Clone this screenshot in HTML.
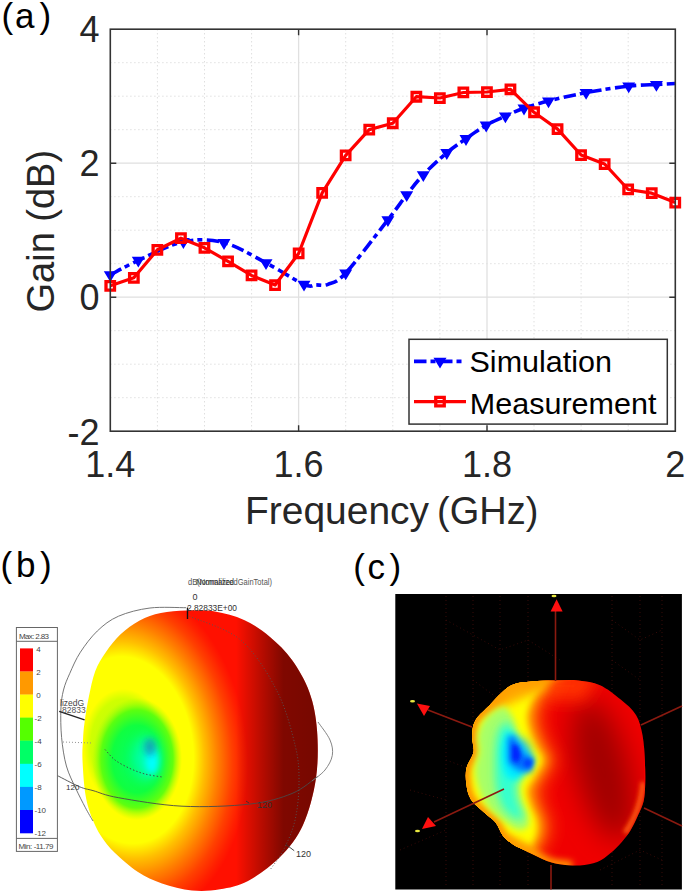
<!DOCTYPE html>
<html><head><meta charset="utf-8"><style>
html,body{margin:0;padding:0;background:#fff;width:685px;height:896px;overflow:hidden}
svg{position:absolute;left:0;top:0;font-family:"Liberation Sans",sans-serif}
</style></head><body>
<svg width="685" height="896" viewBox="0 0 685 896">
<path d="M157.4,29.2V431.2 M204.5,29.2V431.2 M251.6,29.2V431.2 M345.7,29.2V431.2 M392.8,29.2V431.2 M439.9,29.2V431.2 M534.0,29.2V431.2 M581.1,29.2V431.2 M628.2,29.2V431.2 M110.3,62.7H675.3 M110.3,96.2H675.3 M110.3,129.7H675.3 M110.3,196.7H675.3 M110.3,230.2H675.3 M110.3,263.7H675.3 M110.3,330.7H675.3 M110.3,364.2H675.3 M110.3,397.7H675.3" stroke="#d8d8d8" stroke-width="1" stroke-dasharray="1.2 2.8" fill="none"/>
<path d="M298.6,29.2V431.2 M110.3,163.2H675.3 M487.0,29.2V431.2 M110.3,297.2H675.3" stroke="#e0e0e0" stroke-width="1.3" fill="none"/>
<path d="M298.6,431.2V425.2 M298.6,29.2V35.2 M110.3,163.2H116.3 M675.3,163.2H669.3 M487.0,431.2V425.2 M487.0,29.2V35.2 M110.3,297.2H116.3 M675.3,297.2H669.3" stroke="#333" stroke-width="1.4" fill="none"/>
<path d="M110.3,274.9 C115.0,272.5 126.1,265.9 138.3,260.4 C150.5,254.9 169.1,244.6 183.4,241.7 C197.7,238.8 210.2,239.2 224.0,242.7 C237.8,246.2 252.7,255.9 266.0,262.9 C279.3,269.8 295.7,280.7 304.0,284.4 C312.3,288.1 312.0,284.9 316.0,284.9 C320.0,284.9 323.1,286.3 328.0,284.3 C332.9,282.3 335.7,283.8 345.7,273.0 C355.7,262.2 377.7,232.8 387.9,219.8 C398.1,206.8 400.8,202.3 406.7,194.8 C412.6,187.3 416.6,181.8 423.3,174.8 C430.0,167.8 439.7,158.7 446.8,152.7 C453.9,146.7 459.4,143.3 466.0,138.7 C472.6,134.1 479.6,129.0 486.2,125.2 C492.8,121.4 499.1,118.9 505.4,116.1 C511.7,113.3 516.8,110.7 524.0,108.2 C531.2,105.7 538.1,103.6 548.5,101.0 C558.9,98.4 572.7,95.1 586.1,92.6 C599.5,90.1 617.0,87.4 628.7,86.1 C640.4,84.8 648.6,84.9 656.4,84.5 C664.2,84.1 672.1,83.7 675.3,83.5" stroke="#0000ff" stroke-width="3.6" fill="none" stroke-dasharray="12.5 4 5 4.5"/>
<path d="M103.8,271.3L116.8,271.3L110.3,282.1ZM131.8,256.8L144.8,256.8L138.3,267.6ZM176.9,238.1L189.9,238.1L183.4,248.9ZM217.5,239.1L230.5,239.1L224.0,249.9ZM259.5,259.3L272.5,259.3L266.0,270.1ZM297.5,280.8L310.5,280.8L304.0,291.6ZM339.2,269.4L352.2,269.4L345.7,280.2ZM381.4,216.2L394.4,216.2L387.9,227.0ZM400.2,191.2L413.2,191.2L406.7,202.0ZM416.8,171.2L429.8,171.2L423.3,182.0ZM440.3,149.1L453.3,149.1L446.8,159.9ZM459.5,135.1L472.5,135.1L466.0,145.9ZM479.7,121.6L492.7,121.6L486.2,132.4ZM498.9,112.5L511.9,112.5L505.4,123.3ZM517.5,104.6L530.5,104.6L524.0,115.4ZM542.0,97.4L555.0,97.4L548.5,108.2ZM579.6,89.0L592.6,89.0L586.1,99.8ZM622.2,82.5L635.2,82.5L628.7,93.3ZM649.9,80.9L662.9,80.9L656.4,91.7Z" fill="#0000ff"/>
<path d="M110.3,285.8 L133.8,277.8 L157.4,249.8 L180.9,238.2 L204.5,247.8 L228.0,261.4 L251.5,275.4 L275.1,285.0 L298.6,253.5 L322.2,192.9 L345.7,155.4 L369.2,129.6 L392.8,123.2 L416.3,96.7 L439.9,98.0 L463.4,92.5 L486.9,92.0 L510.5,89.4 L534.0,112.3 L557.6,129.1 L581.1,155.0 L604.6,164.0 L628.2,189.5 L651.7,193.2 L675.3,202.6" stroke="#ff0000" stroke-width="3.2" fill="none" stroke-linejoin="round"/>
<path d="M106.0,281.6h8.5v8.5h-8.5ZM129.6,273.6h8.5v8.5h-8.5ZM153.1,245.6h8.5v8.5h-8.5ZM176.7,233.9h8.5v8.5h-8.5ZM200.2,243.6h8.5v8.5h-8.5ZM223.8,257.1h8.5v8.5h-8.5ZM247.3,271.1h8.5v8.5h-8.5ZM270.8,280.8h8.5v8.5h-8.5ZM294.4,249.2h8.5v8.5h-8.5ZM317.9,188.7h8.5v8.5h-8.5ZM341.4,151.2h8.5v8.5h-8.5ZM365.0,125.3h8.5v8.5h-8.5ZM388.5,119.0h8.5v8.5h-8.5ZM412.1,92.5h8.5v8.5h-8.5ZM435.6,93.8h8.5v8.5h-8.5ZM459.1,88.2h8.5v8.5h-8.5ZM482.7,87.8h8.5v8.5h-8.5ZM506.2,85.2h8.5v8.5h-8.5ZM529.8,108.0h8.5v8.5h-8.5ZM553.3,124.8h8.5v8.5h-8.5ZM576.8,150.8h8.5v8.5h-8.5ZM600.4,159.8h8.5v8.5h-8.5ZM623.9,185.2h8.5v8.5h-8.5ZM647.5,188.9h8.5v8.5h-8.5ZM671.0,198.3h8.5v8.5h-8.5Z" stroke="#ff0000" stroke-width="3.3" fill="none"/>
<rect x="110.3" y="29.2" width="565.0" height="402.0" fill="none" stroke="#333" stroke-width="1.6"/>
<rect x="409" y="339.3" width="258.3" height="84.8" fill="#fff" stroke="#333" stroke-width="1.5"/>
<path d="M414,361.4H466" stroke="#0000ff" stroke-width="3.6" stroke-dasharray="12.5 4 5 4.5"/>
<path d="M433.5,357.8L446.5,357.8L440.0,368.6Z" fill="#0000ff"/>
<path d="M414,401.6H466" stroke="#ff0000" stroke-width="3.2"/>
<path d="M435.75,397.35h8.5v8.5h-8.5Z" stroke="#ff0000" stroke-width="3.3" fill="none"/>
<text transform="translate(469.5,372.4) scale(1.035,1)" font-size="29.5" fill="#000">Simulation</text>
<text transform="translate(469.8,414) scale(1.035,1)" font-size="29.5" fill="#000">Measurement</text>
<g font-size="36" fill="#262626" text-anchor="end">
<text x="99.5" y="41.7">4</text>
<text x="99.5" y="175.7">2</text>
<text x="99.5" y="309.7">0</text>
<text x="99.5" y="444.5">-2</text>
</g>
<g font-size="36" fill="#262626" text-anchor="middle">
<text x="110.3" y="476.5">1.4</text>
<text x="298.6" y="476.5">1.6</text>
<text x="487.0" y="476.5">1.8</text>
<text x="675.3" y="476.5">2</text>
</g>
<text transform="translate(245,524.2) scale(1.025,1)" font-size="38" fill="#262626">Frequency</text>
<text x="437" y="524.2" font-size="38" fill="#262626">(GHz)</text>
<text transform="translate(53.5,312.5) rotate(-90)" font-size="38" fill="#262626">Gain (dB)</text>
<g font-size="35" fill="#000"><text y="28"><tspan x="1.5">(</tspan><tspan x="15">a</tspan><tspan x="39.5">)</tspan></text>
<text y="576.5"><tspan x="0.6">(</tspan><tspan x="16">b</tspan><tspan x="40">)</tspan></text>
<text y="578.5"><tspan x="353.3">(</tspan><tspan x="367.6">c</tspan><tspan x="389.5">)</tspan></text></g>
<defs>
<clipPath id="cb"><path d="M186.5,610.6 C195.5,610.4 205.4,609.9 215.0,611.5 C224.6,613.1 234.8,615.8 244.0,620.0 C253.2,624.2 262.0,630.3 270.0,637.0 C278.0,643.7 285.4,650.8 292.0,660.0 C298.6,669.2 305.2,680.5 309.4,692.2 C313.6,703.9 315.9,715.7 317.0,730.0 C318.1,744.3 318.3,762.2 316.0,778.0 C313.7,793.8 309.0,811.8 303.0,825.0 C297.0,838.2 289.2,847.7 280.0,857.0 C270.8,866.3 258.0,875.6 248.0,881.0 C238.0,886.4 229.3,887.7 220.0,889.3 C210.7,890.9 201.7,891.5 192.0,890.5 C182.3,889.5 171.0,886.6 162.0,883.5 C153.0,880.4 145.8,877.1 138.0,872.0 C130.2,866.9 121.2,859.0 115.0,853.0 C108.8,847.0 104.8,841.8 101.0,836.0 C97.2,830.2 94.6,824.8 92.0,818.0 C89.4,811.2 87.1,804.7 85.5,795.0 C83.9,785.3 82.9,769.2 82.5,760.0 C82.1,750.8 82.7,746.3 83.0,740.0 C83.3,733.7 83.6,729.2 84.6,722.0 C85.6,714.8 87.1,705.1 88.9,696.6 C90.7,688.1 92.4,678.6 95.2,671.2 C98.0,663.8 101.6,658.4 105.8,652.2 C110.0,646.0 114.9,639.5 120.6,634.2 C126.2,628.9 133.0,623.9 139.7,620.4 C146.4,616.9 153.0,614.6 160.8,613.0 C168.6,611.4 177.5,610.9 186.5,610.6Z"/></clipPath>
<radialGradient id="gb" gradientUnits="userSpaceOnUse" cx="127" cy="750" r="120" gradientTransform="translate(127 750) rotate(-7) scale(1 1.42) translate(-127 -750)"><stop offset="0" stop-color="#a0ff20"/><stop offset="0.3" stop-color="#d0ff00"/><stop offset="0.36" stop-color="#ffff00"/><stop offset="0.55" stop-color="#ffff00"/><stop offset="0.64" stop-color="#ffc000"/><stop offset="0.75" stop-color="#ff8000"/><stop offset="0.87" stop-color="#ff4000"/><stop offset="0.95" stop-color="#ff2000"/><stop offset="1" stop-color="#ff1000"/></radialGradient>
<radialGradient id="gg" gradientUnits="userSpaceOnUse" cx="137" cy="759" r="45" gradientTransform="translate(137 759) scale(1 1.36) translate(-137 -759)"><stop offset="0" stop-color="#00ff70"/><stop offset="0.55" stop-color="#10ff40"/><stop offset="0.8" stop-color="#50ff10" stop-opacity="0.9"/><stop offset="1" stop-color="#a0ff00" stop-opacity="0"/></radialGradient>
<radialGradient id="sb" gradientUnits="userSpaceOnUse" cx="143" cy="735" r="172" gradientTransform="translate(143 735) scale(1 1.1) translate(-143 -735)"><stop offset="0" stop-color="#000" stop-opacity="0"/><stop offset="0.69" stop-color="#000" stop-opacity="0"/><stop offset="0.85" stop-color="#000" stop-opacity="0.3"/><stop offset="1" stop-color="#000" stop-opacity="0.55"/></radialGradient>
<linearGradient id="sx" gradientUnits="userSpaceOnUse" x1="236" y1="0" x2="322" y2="0"><stop offset="0" stop-color="#000" stop-opacity="0"/><stop offset="0.3" stop-color="#000" stop-opacity="0.28"/><stop offset="0.55" stop-color="#000" stop-opacity="0.5"/><stop offset="1" stop-color="#000" stop-opacity="0.54"/></linearGradient>
<filter id="bb3" x="-50%" y="-50%" width="200%" height="200%"><feGaussianBlur stdDeviation="3"/></filter>
<filter id="bb6" x="-50%" y="-50%" width="200%" height="200%"><feGaussianBlur stdDeviation="6"/></filter>
<filter id="bb12" x="-50%" y="-50%" width="200%" height="200%"><feGaussianBlur stdDeviation="13"/></filter>
</defs>
<g clip-path="url(#cb)"><rect x="80" y="600" width="240" height="296" fill="url(#gb)"/>
<rect x="80" y="680" width="120" height="160" fill="url(#gg)"/>
<ellipse cx="147" cy="758" rx="12" ry="22" fill="#00ffc0" filter="url(#bb6)" opacity="0.8"/>
<ellipse cx="152" cy="761" rx="6.5" ry="13" fill="#00ffff" filter="url(#bb3)"/>
<ellipse cx="150" cy="747" rx="6" ry="9" fill="#1890b8" filter="url(#bb3)" opacity="0.75"/>
<rect x="80" y="600" width="240" height="296" fill="url(#sx)"/></g>
<path d="M186.0,607.7 C180.0,607.8 161.2,606.6 150.0,608.0 C138.8,609.4 127.3,612.4 118.5,616.2 C109.7,620.0 103.6,625.0 97.3,631.0 C91.0,637.0 85.0,645.2 80.4,652.2 C75.8,659.2 72.6,667.0 69.8,673.3 C67.0,679.6 65.0,684.0 63.5,690.0 C62.0,696.0 61.2,701.1 60.9,709.0 C60.6,716.9 60.7,728.0 61.6,737.5 C62.5,747.0 64.0,757.5 66.4,766.0 C68.8,774.5 72.7,781.8 75.9,788.7 C79.1,795.7 82.6,802.3 85.4,807.7 C88.2,813.1 91.7,818.8 93.0,821.0" fill="none" stroke="#666" stroke-width="0.9"/>
<path d="M57.0,775.4 C60.8,777.3 73.7,784.3 79.7,786.8 C85.7,789.3 86.5,788.8 93.0,790.6 C99.5,792.4 103.7,795.1 118.5,797.7 C133.3,800.3 160.1,805.1 182.0,806.2 C203.9,807.3 231.4,806.2 249.7,804.1 C268.0,802.0 280.7,798.1 292.0,793.5 C303.3,788.9 313.2,779.4 317.5,776.6" fill="none" stroke="#4a4a4a" stroke-width="0.9"/>
<path d="M312.0,781.0 C314.2,779.2 321.6,774.3 325.0,770.0 C328.4,765.7 331.5,760.4 332.3,755.4 C333.1,750.4 332.4,745.6 330.0,740.0 C327.6,734.4 320.0,725.0 318.0,722.0" fill="none" stroke="#777" stroke-width="0.9"/>
<path d="M189.5,616.4 C198.0,620.3 226.0,627.6 240.6,640.0 C255.2,652.4 267.9,673.3 277.0,691.0 C286.1,708.7 291.6,730.8 295.3,746.0 C299.0,761.2 299.0,770.3 299.0,782.5 C299.0,794.7 297.7,808.0 295.3,819.0 C292.9,830.0 288.6,839.7 284.4,848.2 C280.2,856.7 272.4,866.4 270.0,870.0" fill="none" stroke="#555" stroke-width="0.9" stroke-dasharray="1 2"/>
<path d="M105.0,749.5 C106.7,751.2 110.8,756.8 115.0,760.0 C119.2,763.2 125.0,766.2 130.0,768.5 C135.0,770.8 139.7,772.6 145.0,774.0 C150.3,775.4 159.2,776.5 162.0,777.0" fill="none" stroke="#444" stroke-width="0.9" stroke-dasharray="1.5 2"/>
<path d="M63,742 L92,743" fill="none" stroke="#888" stroke-width="0.9" stroke-dasharray="1 2"/>
<path d="M59.2,711.4 L84.6,719.9" stroke="#222" stroke-width="1.3"/>
<path d="M187.5,607.5V619" stroke="#111" stroke-width="1.4"/>
<path d="M246,801 l3,2 M285.7,844.3 L294.2,850.7" stroke="#333" stroke-width="0.9"/>
<g font-size="9" fill="#333">
<text x="66" y="790" font-size="8">120</text><text x="257" y="808">120</text><text x="296" y="856.5">120</text>
<text x="192.6" y="600.3">0</text><text x="187" y="611.3" textLength="50" lengthAdjust="spacingAndGlyphs">2.82833E+00</text>
<text x="188" y="585" textLength="84" lengthAdjust="spacingAndGlyphs" fill="#555">dB(NormalizedGainTotal)</text><text x="196" y="585" textLength="38" lengthAdjust="spacingAndGlyphs" fill="#333">Normalized</text>
<text x="60" y="706" font-size="8.5" fill="#444">lizedG</text><text x="62" y="713" font-size="8.5" fill="#555">82833</text>
</g>
<rect x="16.4" y="627.5" width="41" height="223.9" fill="#fff" stroke="#666" stroke-width="1"/>
<path d="M16.4,641.3H57.4M16.4,838.4H57.4" stroke="#666" stroke-width="1"/>
<rect x="20" y="648.4" width="13" height="23.3" fill="#ff0000"/>
<rect x="20" y="671.5" width="13" height="23.3" fill="#ff9900"/>
<rect x="20" y="694.6" width="13" height="23.3" fill="#ffff00"/>
<rect x="20" y="717.6" width="13" height="23.3" fill="#55ff00"/>
<rect x="20" y="740.7" width="13" height="23.3" fill="#00ff66"/>
<rect x="20" y="763.8" width="13" height="23.3" fill="#00ffff"/>
<rect x="20" y="786.9" width="13" height="23.3" fill="#0099ff"/>
<rect x="20" y="810.0" width="13" height="23.3" fill="#0000ff"/>
<g font-size="8" fill="#444">
<text x="19" y="638.6" textLength="30">Max: 2.83</text>
<text x="18.5" y="849" textLength="35">Min: -11.79</text>
<text x="36.2" y="651.5">4</text>
<text x="36.2" y="674.6">2</text>
<text x="36.2" y="697.7">0</text>
<text x="34.5" y="720.7">-2</text>
<text x="34.5" y="743.8">-4</text>
<text x="34.5" y="766.9">-6</text>
<text x="34.5" y="790.0">-8</text>
<text x="34.5" y="813.1">-10</text>
<text x="34.5" y="836.1">-12</text>
</g>
<rect x="395.3" y="594" width="286.6" height="295.5" fill="#000"/>
<g stroke="#380a08" stroke-width="1" stroke-dasharray="1 3" fill="none">
<path d="M446,596V888"/>
<path d="M473,596V888"/>
<path d="M500,596V888"/>
<path d="M528,596V888"/>
<path d="M612,596V888"/>
<path d="M640,596V888"/>
<path d="M662,596V888"/>
<path d="M446,620L500,650L528,640L560,660M473,680L500,700M446,760L473,770M410,790L446,800M400,850L446,830M612,620L640,640L662,630M612,660L640,680M600,870L640,850L662,860"/>
</g>
<defs><clipPath id="cc"><path d="M510.0,686.0 C517.3,681.8 524.6,682.4 532.0,681.5 C539.4,680.6 546.5,680.7 554.2,680.5 C561.9,680.3 570.4,679.7 578.0,680.5 C585.6,681.3 592.9,682.1 600.0,685.3 C607.1,688.5 614.7,694.6 620.7,699.6 C626.7,704.6 632.4,709.0 636.0,715.0 C639.6,721.0 641.1,727.6 642.6,735.4 C644.1,743.2 644.5,753.8 644.9,761.8 C645.3,769.8 645.4,777.1 645.2,783.6 C645.0,790.1 644.9,795.7 643.7,801.0 C642.5,806.3 640.1,810.7 637.9,815.5 C635.7,820.3 633.4,825.6 630.7,830.0 C628.1,834.4 625.4,837.8 622.0,841.7 C618.6,845.6 614.4,849.9 610.3,853.3 C606.2,856.7 602.3,860.0 597.3,862.0 C592.2,864.0 585.9,865.1 580.0,865.5 C574.1,865.9 567.5,865.2 562.0,864.5 C556.5,863.8 552.7,863.1 547.0,861.0 C541.3,858.9 533.4,854.5 527.7,851.8 C522.1,849.0 517.2,847.2 513.1,844.5 C509.0,841.8 505.8,839.4 502.9,835.7 C500.0,832.1 498.8,826.5 495.6,822.6 C492.4,818.7 488.0,816.2 483.9,812.3 C479.8,808.4 473.7,803.8 470.8,799.2 C467.9,794.6 467.1,789.8 466.4,784.6 C465.7,779.4 465.3,773.4 466.5,768.0 C467.7,762.6 472.6,757.3 473.5,752.0 C474.4,746.7 471.7,741.2 472.0,736.0 C472.3,730.8 472.5,725.6 475.2,720.7 C477.9,715.8 482.2,712.6 488.0,706.8 C493.8,701.0 502.7,690.2 510.0,686.0Z"/></clipPath>
<filter id="bl2" x="-50%" y="-50%" width="200%" height="200%"><feGaussianBlur stdDeviation="2"/></filter>
<filter id="bl3" x="-50%" y="-50%" width="200%" height="200%"><feGaussianBlur stdDeviation="3"/></filter>
<filter id="bl5" x="-50%" y="-50%" width="200%" height="200%"><feGaussianBlur stdDeviation="5"/></filter>
<filter id="bl8" x="-50%" y="-50%" width="200%" height="200%"><feGaussianBlur stdDeviation="8"/></filter>
<filter id="bl14" x="-50%" y="-50%" width="200%" height="200%"><feGaussianBlur stdDeviation="14"/></filter>
</defs>
<g clip-path="url(#cc)">
<rect x="460" y="675" width="190" height="195" fill="#f00000"/>
<ellipse cx="603" cy="770" rx="26" ry="72" transform="rotate(-14 603 770)" fill="#a00000" filter="url(#bl14)"/>
<path d="M540,672 L600,672 L585,700 L545,700 Z" fill="#ff3000" filter="url(#bl8)"/>
<path d="M545.0,668.0 C544.3,670.8 543.2,679.7 541.0,685.0 C538.8,690.3 534.3,695.0 532.0,700.0 C529.7,705.0 527.5,710.0 527.0,715.0 C526.5,720.0 527.7,725.0 529.0,730.0 C530.3,735.0 532.8,740.0 535.0,745.0 C537.2,750.0 542.0,755.0 542.0,760.0 C542.0,765.0 537.5,770.0 535.0,775.0 C532.5,780.0 527.8,785.0 527.0,790.0 C526.2,795.0 528.5,800.0 530.0,805.0 C531.5,810.0 535.0,815.2 536.0,820.0 C537.0,824.8 537.0,829.5 536.0,834.0 C535.0,838.5 532.2,842.8 530.0,847.0 C527.8,851.2 525.5,854.5 523.0,859.0 C520.5,863.5 516.3,871.5 515.0,874.0 L440,872 L440,668 Z" fill="#ff5a00" filter="url(#bl8)" transform="translate(14,0)"/>
<path d="M545.0,668.0 C544.3,670.8 543.2,679.7 541.0,685.0 C538.8,690.3 534.3,695.0 532.0,700.0 C529.7,705.0 527.5,710.0 527.0,715.0 C526.5,720.0 527.7,725.0 529.0,730.0 C530.3,735.0 532.8,740.0 535.0,745.0 C537.2,750.0 542.0,755.0 542.0,760.0 C542.0,765.0 537.5,770.0 535.0,775.0 C532.5,780.0 527.8,785.0 527.0,790.0 C526.2,795.0 528.5,800.0 530.0,805.0 C531.5,810.0 535.0,815.2 536.0,820.0 C537.0,824.8 537.0,829.5 536.0,834.0 C535.0,838.5 532.2,842.8 530.0,847.0 C527.8,851.2 525.5,854.5 523.0,859.0 C520.5,863.5 516.3,871.5 515.0,874.0 L440,872 L440,668 Z" fill="#ffa000" filter="url(#bl5)" transform="translate(6,0)"/>
<path d="M545.0,668.0 C544.3,670.8 543.2,679.7 541.0,685.0 C538.8,690.3 534.3,695.0 532.0,700.0 C529.7,705.0 527.5,710.0 527.0,715.0 C526.5,720.0 527.7,725.0 529.0,730.0 C530.3,735.0 532.8,740.0 535.0,745.0 C537.2,750.0 542.0,755.0 542.0,760.0 C542.0,765.0 537.5,770.0 535.0,775.0 C532.5,780.0 527.8,785.0 527.0,790.0 C526.2,795.0 528.5,800.0 530.0,805.0 C531.5,810.0 535.0,815.2 536.0,820.0 C537.0,824.8 537.0,829.5 536.0,834.0 C535.0,838.5 532.2,842.8 530.0,847.0 C527.8,851.2 525.5,854.5 523.0,859.0 C520.5,863.5 516.3,871.5 515.0,874.0 L440,872 L440,668 Z" fill="#ffff00" filter="url(#bl3)"/>
<path d="M575.0,668.0 C570.8,669.3 557.2,673.8 550.0,676.0 C542.8,678.2 538.7,679.8 532.0,681.5 C525.3,683.2 517.3,681.8 510.0,686.0 C502.7,690.2 493.8,701.0 488.0,706.8 C482.2,712.6 477.9,715.8 475.2,720.7 C472.5,725.6 472.3,730.8 472.0,736.0 C471.7,741.2 474.4,746.7 473.5,752.0 C472.6,757.3 467.7,762.6 466.5,768.0 C465.3,773.4 465.7,779.4 466.4,784.6 C467.1,789.8 467.9,794.6 470.8,799.2 C473.7,803.8 479.8,808.4 483.9,812.3 C488.0,816.2 492.4,818.7 495.6,822.6 C498.8,826.5 500.0,832.1 502.9,835.7 C505.8,839.4 509.0,841.8 513.1,844.5 C517.2,847.2 522.8,849.4 527.7,851.8 C532.6,854.2 538.2,857.1 542.3,859.0 C546.4,860.9 547.5,862.2 552.5,863.4 C557.5,864.6 568.8,865.6 572.0,866.0" fill="none" stroke="#ff9000" stroke-width="10" filter="url(#bl3)"/>
<path d="M643,782 Q641,810 625,833" fill="none" stroke="#ff5a10" stroke-width="5" filter="url(#bl2)"/>
<path d="M646,725 Q648,760 645,785" fill="none" stroke="#ff0000" stroke-width="6" filter="url(#bl3)"/>
<path d="M480,668 L552,668 L545,690 L528,696 L505,706 L480,714 Z" fill="#ffa000" filter="url(#bl5)" opacity="0.9"/>
<path d="M495,845 L510,836 L530,846 L545,870 L495,870 Z" fill="#ffa000" filter="url(#bl5)" opacity="0.8"/>
<path d="M503.0,707.0 C507.3,706.7 509.8,712.2 512.0,716.0 C514.2,719.8 514.0,725.2 516.0,730.0 C518.0,734.8 521.0,740.0 524.0,745.0 C527.0,750.0 533.7,755.5 534.0,760.0 C534.3,764.5 528.5,767.8 526.0,772.0 C523.5,776.2 519.8,780.3 519.0,785.0 C518.2,789.7 519.7,795.0 521.0,800.0 C522.3,805.0 525.8,810.7 527.0,815.0 C528.2,819.3 529.5,823.5 528.0,826.0 C526.5,828.5 522.2,831.0 518.0,830.0 C513.8,829.0 508.0,823.8 503.0,820.0 C498.0,816.2 492.0,812.0 488.0,807.0 C484.0,802.0 481.2,796.2 479.0,790.0 C476.8,783.8 475.0,776.3 475.0,770.0 C475.0,763.7 478.5,757.8 479.0,752.0 C479.5,746.2 476.8,740.7 478.0,735.0 C479.2,729.3 481.8,722.7 486.0,718.0 C490.2,713.3 498.7,707.3 503.0,707.0Z" fill="#a8ff68" filter="url(#bl3)"/>
<path d="M508.0,722.0 C510.3,722.7 511.7,727.8 514.0,732.0 C516.3,736.2 519.2,742.3 522.0,747.0 C524.8,751.7 530.7,755.8 531.0,760.0 C531.3,764.2 526.5,767.7 524.0,772.0 C521.5,776.3 517.0,781.0 516.0,786.0 C515.0,791.0 516.7,796.7 518.0,802.0 C519.3,807.3 524.7,815.3 524.0,818.0 C523.3,820.7 517.7,820.0 514.0,818.0 C510.3,816.0 505.0,811.3 502.0,806.0 C499.0,800.7 497.2,792.8 496.0,786.0 C494.8,779.2 495.0,772.3 495.0,765.0 C495.0,757.7 495.2,748.2 496.0,742.0 C496.8,735.8 498.0,731.3 500.0,728.0 C502.0,724.7 505.7,721.3 508.0,722.0Z" fill="#30ffd0" filter="url(#bl5)"/>
<path d="M510.0,732.0 C512.7,733.3 516.7,743.2 520.0,748.0 C523.3,752.8 529.7,757.0 530.0,761.0 C530.3,765.0 524.7,768.8 522.0,772.0 C519.3,775.2 516.8,779.7 514.0,780.0 C511.2,780.3 507.0,778.0 505.0,774.0 C503.0,770.0 502.2,761.7 502.0,756.0 C501.8,750.3 502.7,744.0 504.0,740.0 C505.3,736.0 507.3,730.7 510.0,732.0Z" fill="#00f4ff" filter="url(#bl3)"/>
<ellipse cx="520" cy="756" rx="11" ry="17" fill="#00b0ff" filter="url(#bl5)" opacity="0.8"/>
<path d="M508,736 L515,736 L521,753 L534,759 L531,772 L520,770 L509,763 Z" fill="#0070ff" filter="url(#bl3)"/>
<path d="M512,744 L518,746 L521,755 L518,763 L512,760 Z" fill="#0020ff" filter="url(#bl2)"/>
<path d="M524,759 L533,760 L530,768 L524,766 Z" fill="#0040ff" filter="url(#bl2)"/>
</g>
<g stroke="#8a1a10" stroke-width="1.6">
<path d="M555.5,611V681"/>
<path d="M428,710L472,727"/>
<path d="M434,822L504,789"/>
<path d="M641,725L682,706"/>
<path d="M644,808L682,826"/>
<path d="M551,865V889.5"/>
</g>
<path d="M556.6,599.3L562.6,611.6L550.6,611.6Z" fill="#ff1010"/>
<path d="M416.9,703.5L430,706L424,716Z" fill="#ff1010"/>
<path d="M422,829L428,817L436,826Z" fill="#ff1010"/>
<g fill="#e8e840"><ellipse cx="554" cy="596" rx="2.5" ry="1.3"/><ellipse cx="412.5" cy="701.3" rx="2.5" ry="1.3"/><ellipse cx="417.5" cy="831" rx="2.5" ry="1.3"/></g>
</svg>
</body></html>
